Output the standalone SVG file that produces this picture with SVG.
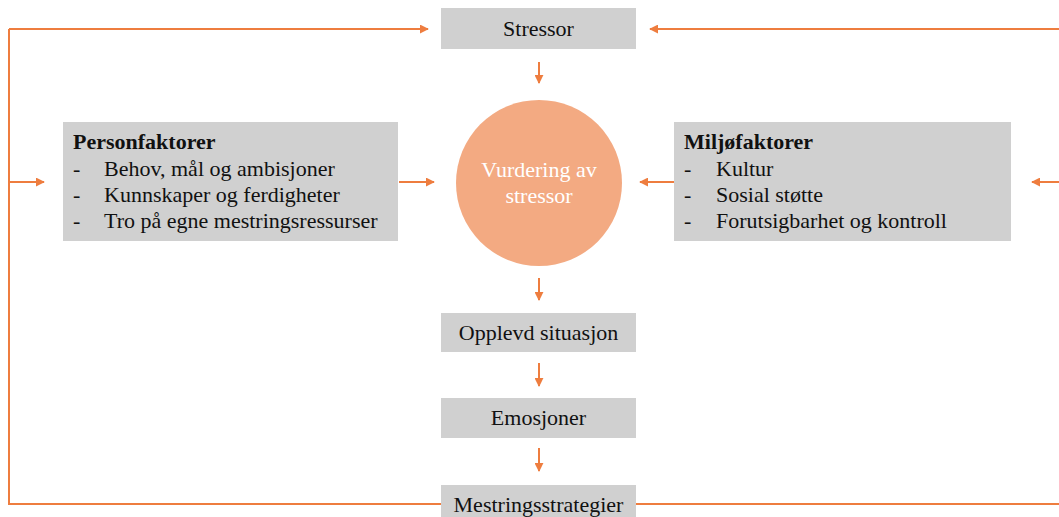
<svg xmlns="http://www.w3.org/2000/svg" width="1059" height="517" viewBox="0 0 1059 517">
<style>
.box{fill:#d0d0d0}
.c{fill:none;stroke:#ee7d3f;stroke-width:2}
.t{font-family:"Liberation Serif","Times New Roman",serif;font-size:22px;fill:#111}
.b{font-weight:bold}
.m{text-anchor:middle}
.w{fill:#ffffff;font-family:"Liberation Serif","Times New Roman",serif;font-size:22px;text-anchor:middle}
</style>
<defs>
<marker id="ah" viewBox="0 0 10 10" refX="9" refY="5" markerWidth="4.5" markerHeight="4.5" orient="auto" markerUnits="strokeWidth">
<path d="M0,0 L10,5 L0,10 z" fill="#ee7d3f"/>
</marker>
</defs>
<rect width="1059" height="517" fill="#ffffff"/>
<g id="connectors">
<path class="c" d="M9,29 H428" marker-end="url(#ah)"/>
<path class="c" d="M1059,29 H650" marker-end="url(#ah)"/>
<path class="c" d="M441,504 H9 V29"/>
<path class="c" d="M9,182 H44" marker-end="url(#ah)"/>
<path class="c" d="M636,504 H1059"/>
<path class="c" d="M1059,182 H1032" marker-end="url(#ah)"/>
<path class="c" d="M539,62 V83" marker-end="url(#ah)"/>
<path class="c" d="M399,182 H434" marker-end="url(#ah)"/>
<path class="c" d="M674,182 H640" marker-end="url(#ah)"/>
<path class="c" d="M539,278 V300" marker-end="url(#ah)"/>
<path class="c" d="M539,363 V386" marker-end="url(#ah)"/>
<path class="c" d="M539,448 V471" marker-end="url(#ah)"/>
</g>
<g id="stressor">
<rect class="box" x="441" y="8" width="195" height="41"/>
<text class="t m" x="538.5" y="36">Stressor</text>
</g>
<g id="vurdering">
<circle cx="539" cy="183" r="83" fill="#f3aa82"/>
<text class="w" x="539" y="177">Vurdering av</text>
<text class="w" x="539" y="203">stressor</text>
</g>
<g id="personfaktorer">
<rect class="box" x="63" y="122" width="335" height="119"/>
<text class="t b" x="73" y="149">Personfaktorer</text>
<text class="t" x="73" y="176">-</text>
<text class="t" x="104" y="176">Behov, mål og ambisjoner</text>
<text class="t" x="73" y="202">-</text>
<text class="t" x="104" y="202">Kunnskaper og ferdigheter</text>
<text class="t" x="73" y="228">-</text>
<text class="t" x="104" y="228">Tro på egne mestringsressurser</text>
</g>
<g id="miljofaktorer">
<rect class="box" x="674" y="122" width="337" height="119"/>
<text class="t b" x="684" y="149">Miljøfaktorer</text>
<text class="t" x="684" y="176">-</text>
<text class="t" x="716" y="176">Kultur</text>
<text class="t" x="684" y="202">-</text>
<text class="t" x="716" y="202">Sosial støtte</text>
<text class="t" x="684" y="228">-</text>
<text class="t" x="716" y="228">Forutsigbarhet og kontroll</text>
</g>
<g id="opplevd">
<rect class="box" x="441" y="313" width="195" height="39"/>
<text class="t m" x="538.5" y="340">Opplevd situasjon</text>
</g>
<g id="emosjoner">
<rect class="box" x="441" y="398" width="195" height="40"/>
<text class="t m" x="538.5" y="425">Emosjoner</text>
</g>
<g id="mestring">
<rect class="box" x="441" y="485" width="195" height="40"/>
<text class="t m" x="538.5" y="512">Mestringsstrategier</text>
</g>
</svg>
